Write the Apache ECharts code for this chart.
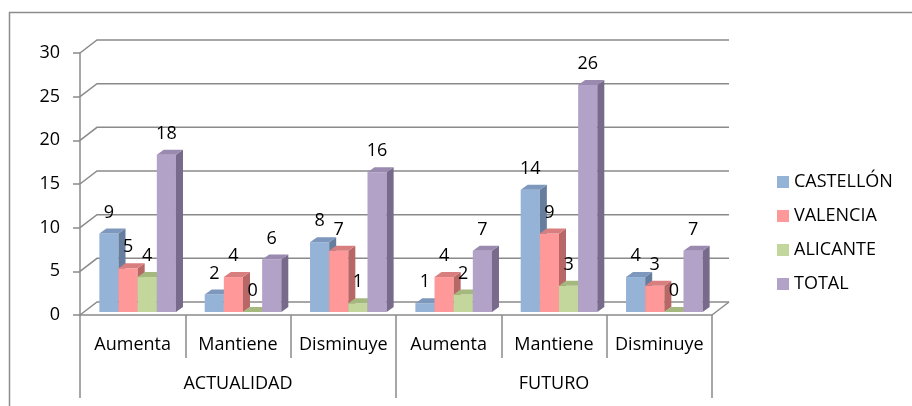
<!DOCTYPE html>
<html>
<head>
<meta charset="utf-8">
<script src="https://cdn.jsdelivr.net/npm/echarts@6/dist/echarts.min.js"></script>
<style>
  html, body { margin: 0; padding: 0; background: #ffffff; }
  #chart { width: 912px; height: 406px; }
</style>
</head>
<body>
<div id="chart"></div>
<script>
// Categories and values
const categories = ['Aumenta', 'Mantiene', 'Disminuye', 'Aumenta', 'Mantiene', 'Disminuye'];
const periods = ['ACTUALIDAD', 'FUTURO'];
const seriesNames = ['CASTELLÓN', 'VALENCIA', 'ALICANTE', 'TOTAL'];
const castellon = [9, 2, 8, 1, 14, 4];
const valencia = [5, 4, 7, 4, 9, 3];
const alicante = [4, 0, 1, 2, 3, 0];
const total = [18, 6, 16, 7, 26, 7];
const yTicks = [0, 5, 10, 15, 20, 25, 30];

// Face colours of each 3D column: front, right side, top
const palette = [
  { front: '#95B3D7', side: '#667D9E', top: '#7D98BC' },
  { front: '#FF9999', side: '#B86767', top: '#D97E7E' },
  { front: '#C3D69B', side: '#8A9C66', top: '#A5B87D' },
  { front: '#B3A2C7', side: '#776A8A', top: '#9A8AAF' }
];

const FONT = '"Open Sans", "Liberation Sans", sans-serif';
const GRID_COLOR = '#8a8a8a';
// Depth of the back wall relative to the front axis
const WALL_DX = 17, WALL_DY = -13;
// Columns sit a little behind the front edge
const BAR_DX = 5, BAR_DY = -3;
// Thickness of each column
const COL_DX = 7, COL_DY = -5;
const GAP = 1.5; // gap width as a fraction of a column

const chart = echarts.init(document.getElementById('chart'), null, { renderer: 'canvas' });

function columnSeries(name, values, idx) {
  const col = palette[idx];
  return {
    name: name,
    type: 'custom',
    coordinateSystem: 'cartesian2d',
    xAxisIndex: 0,
    yAxisIndex: 0,
    z: 3,
    itemStyle: { color: col.front },
    encode: { x: 0, y: 1 },
    data: values.map((v, i) => [i, v]),
    renderItem: function (params, api) {
      const cat = api.value(0);
      const v = api.value(1);
      const band = api.size([1, 0])[0];
      const w = band / (seriesNames.length + GAP);
      const top = api.coord([cat, v]);
      const base = api.coord([cat, 0]);
      const x0 = top[0] - band / 2 + (GAP / 2) * w + idx * w + BAR_DX;
      const x1 = x0 + w;
      const yt = top[1] + BAR_DY;
      const yb = base[1] + BAR_DY;
      return {
        type: 'group',
        children: [
          {
            type: 'rect',
            shape: { x: x0, y: yt, width: w, height: yb - yt },
            style: { fill: col.front }
          },
          {
            type: 'polygon',
            shape: { points: [[x1, yt], [x1 + COL_DX, yt + COL_DY], [x1 + COL_DX, yb + COL_DY], [x1, yb]] },
            style: { fill: col.side }
          },
          {
            type: 'polygon',
            shape: { points: [[x0, yt], [x0 + COL_DX, yt + COL_DY], [x1 + COL_DX, yt + COL_DY], [x1, yt]] },
            style: { fill: col.top }
          },
          {
            type: 'text',
            z2: 100,
            style: {
              text: String(v),
              x: x0 + w / 2,
              y: yt - 21,
              align: 'center',
              verticalAlign: 'middle',
              fill: '#000000',
              font: '18px ' + FONT
            }
          }
        ]
      };
    }
  };
}

// Back wall gridlines with their diagonal links to the front axis, and the floor edge
const frameSeries = {
  name: 'frame',
  type: 'custom',
  coordinateSystem: 'cartesian2d',
  xAxisIndex: 0,
  yAxisIndex: 0,
  silent: true,
  z: 1,
  encode: { x: 0, y: 1 },
  data: yTicks.map(v => [0, v]),
  renderItem: function (params, api) {
    const cs = params.coordSys;
    const y = api.coord([0, api.value(1)])[1];
    const left = cs.x, right = cs.x + cs.width;
    const children = [{
      type: 'polyline',
      shape: { points: [[left, y], [left + WALL_DX, y + WALL_DY], [right + WALL_DX, y + WALL_DY]] },
      style: { stroke: GRID_COLOR, lineWidth: 1.5, fill: null }
    }];
    if (api.value(1) === 0) {
      children.push({
        type: 'line',
        shape: { x1: right, y1: y, x2: right + WALL_DX, y2: y + WALL_DY },
        style: { stroke: GRID_COLOR, lineWidth: 1.5 }
      });
    }
    return { type: 'group', children: children };
  }
};

const option = {
  animation: false,
  backgroundColor: '#ffffff',
  textStyle: { fontFamily: FONT },
  graphic: [{
    type: 'rect',
    left: 7, top: 10,
    shape: { x: 0, y: 0, width: 1000, height: 500 },
    style: { fill: null, stroke: '#8c8c8c', lineWidth: 1.5 },
    silent: true
  }],
  legend: {
    data: seriesNames,
    orient: 'vertical',
    left: 772,
    top: 168,
    icon: 'rect',
    itemWidth: 12,
    itemHeight: 12,
    itemGap: 16,
    textStyle: { fontSize: 18, color: '#000000', fontFamily: FONT }
  },
  grid: { left: 80, right: 200, top: 53, bottom: 91, containLabel: false },
  xAxis: [
    {
      type: 'category',
      position: 'bottom',
      data: categories,
      boundaryGap: true,
      axisLine: { show: true, onZero: false, lineStyle: { color: GRID_COLOR, width: 1.5 } },
      axisTick: { show: true, interval: 0, length: 43, lineStyle: { color: GRID_COLOR, width: 1.5 } },
      axisLabel: { interval: 0, margin: 21, fontSize: 18, color: '#000000', fontFamily: FONT },
      splitLine: { show: false }
    },
    {
      type: 'category',
      position: 'bottom',
      data: periods,
      boundaryGap: true,
      axisLine: { show: false },
      axisTick: { show: true, interval: 0, length: 83, lineStyle: { color: GRID_COLOR, width: 1.5 } },
      axisLabel: { interval: 0, margin: 60, fontSize: 18, color: '#000000', fontFamily: FONT },
      splitLine: { show: false }
    }
  ],
  yAxis: {
    type: 'value',
    min: 0,
    max: 30,
    interval: 5,
    axisLine: { show: true, lineStyle: { color: GRID_COLOR, width: 1.5 } },
    axisTick: { show: true, length: 7, lineStyle: { color: GRID_COLOR, width: 1.5 } },
    axisLabel: { margin: 20, fontSize: 18, color: '#000000', fontFamily: FONT },
    splitLine: { show: false }
  },
  series: [
    frameSeries,
    columnSeries(seriesNames[0], castellon, 0),
    columnSeries(seriesNames[1], valencia, 1),
    columnSeries(seriesNames[2], alicante, 2),
    columnSeries(seriesNames[3], total, 3)
  ]
};

chart.setOption(option);
</script>
</body>
</html>
